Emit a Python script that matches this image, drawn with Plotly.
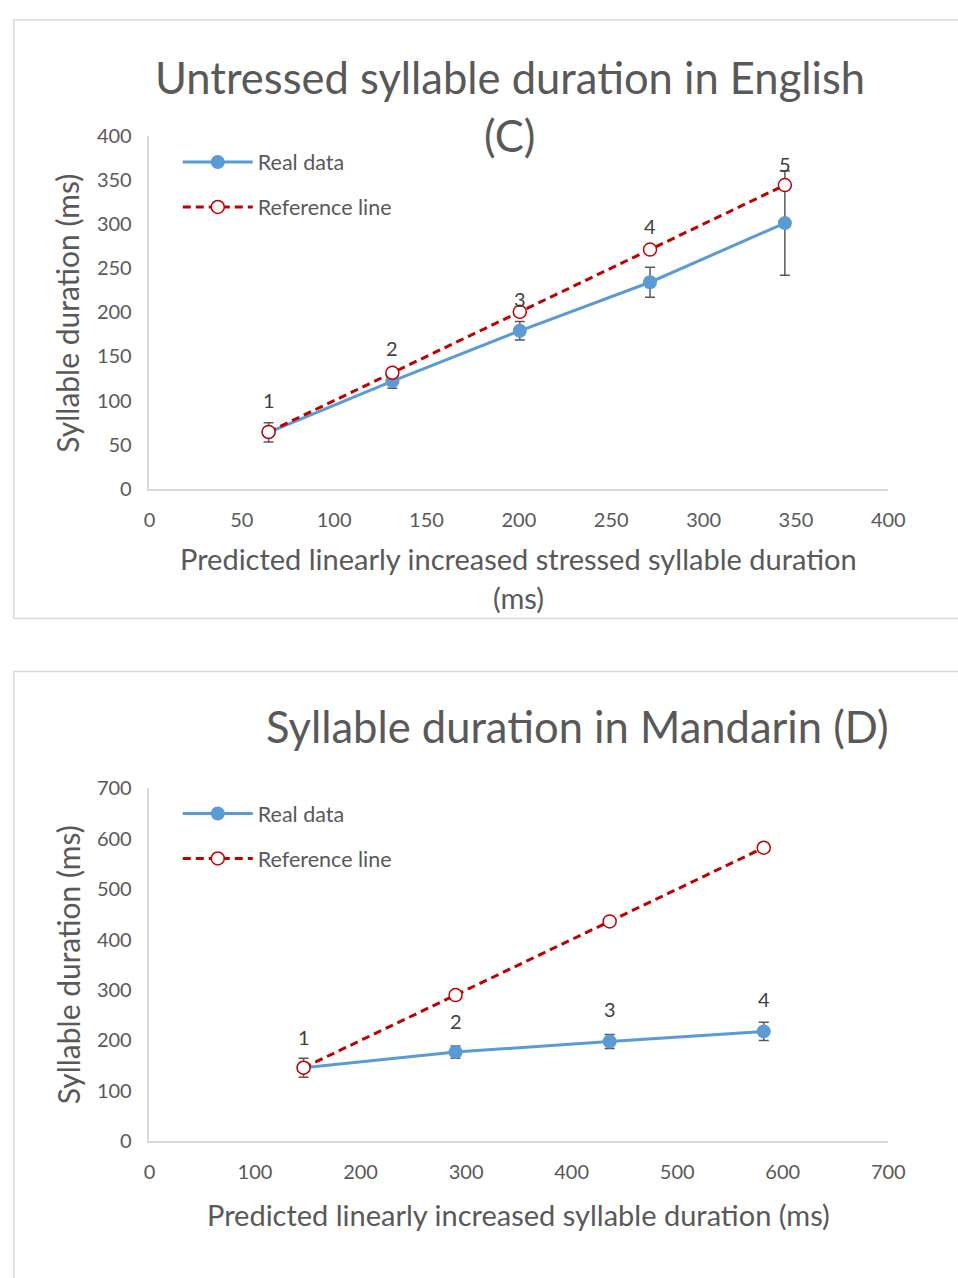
import plotly.graph_objects as go

W, H = 958, 1278

# ---- data: English (C) ----
en_pred = [64.5, 131.5, 200.5, 271, 344]
en_real = [64, 122, 179, 234, 301]
en_real_err = [11, 8, 10.5, 17, 59]
en_ref = [64.5, 131.5, 200.5, 271, 344]
en_labels = ["1", "2", "3", "4", "5"]

# ---- data: Mandarin (D) ----
md_pred = [146, 290, 436, 582]
md_real = [146, 177, 198, 218]
md_real_err = [19, 12, 14, 18]
md_ref = [146, 290, 436, 582]
md_labels = ["1", "2", "3", "4"]

# style: label offsets above the real-data point (pixels)
en_label_shift = [32, 33, 32, 56, 59]
md_label_shift = [31, 31, 32, 32]

FONT = "Lato, Carlito, Calibri, sans-serif"
TXT = "#595959"
AX = "#d9d9d9"
BLUE = "#5b9bd5"
RED = "#c00000"


def py(px):
    return 1 - px / H


def pxx(px):
    return px / W


fig = go.Figure()

# English
fig.add_trace(go.Scatter(
    x=en_pred, y=en_real, mode="lines+markers", name="Real data",
    line=dict(color=BLUE, width=3), marker=dict(size=14, color=BLUE),
    error_y=dict(type="data", array=en_real_err, color=TXT, thickness=1.5, width=5),
    xaxis="x", yaxis="y", legend="legend", legendgroup="a"))
fig.add_trace(go.Scatter(
    x=en_pred, y=en_ref, mode="lines+markers", name="Reference line",
    line=dict(color=RED, width=3, dash="8px,5px"),
    marker=dict(size=13, color="white", line=dict(color=RED, width=1.5)),
    xaxis="x", yaxis="y", legend="legend", legendgroup="b"))

# Mandarin
fig.add_trace(go.Scatter(
    x=md_pred, y=md_real, mode="lines+markers", name="Real data",
    line=dict(color=BLUE, width=3), marker=dict(size=14, color=BLUE),
    error_y=dict(type="data", array=md_real_err, color=TXT, thickness=1.5, width=5),
    xaxis="x2", yaxis="y2", legend="legend2", legendgroup="c"))
fig.add_trace(go.Scatter(
    x=md_pred, y=md_ref, mode="lines+markers", name="Reference line",
    line=dict(color=RED, width=3, dash="8px,5px"),
    marker=dict(size=13, color="white", line=dict(color=RED, width=1.5)),
    xaxis="x2", yaxis="y2", legend="legend2", legendgroup="d"))

annotations = []
for xv, yv, t, s in zip(en_pred, en_real, en_labels, en_label_shift):
    annotations.append(dict(x=xv, y=yv, xref="x", yref="y", text=t, showarrow=False,
                            yshift=s, font=dict(family=FONT, size=20, color="#404040")))
for xv, yv, t, s in zip(md_pred, md_real, md_labels, md_label_shift):
    annotations.append(dict(x=xv, y=yv, xref="x2", yref="y2", text=t, showarrow=False,
                            yshift=s, font=dict(family=FONT, size=20, color="#404040")))

TS = 43.5
AT = 29
YT = 30
# titles
annotations += [
    dict(x=pxx(516), y=py(65), xref="paper", yref="paper", text="Untressed syllable duration in English",
         showarrow=False, font=dict(family=FONT, size=TS, color=TXT), yanchor="middle"),
    dict(x=pxx(516), y=py(124), xref="paper", yref="paper", text="(C)",
         showarrow=False, font=dict(family=FONT, size=TS, color=TXT), yanchor="middle"),
    dict(x=pxx(586), y=py(727), xref="paper", yref="paper", text="Syllable duration in Mandarin (D)",
         showarrow=False, font=dict(family=FONT, size=TS, color=TXT), yanchor="middle"),
    # axis titles
    dict(x=pxx(525), y=py(556), xref="paper", yref="paper",
         text="Predicted linearly increased stressed syllable duration",
         showarrow=False, font=dict(family=FONT, size=AT, color=TXT), yanchor="middle"),
    dict(x=pxx(525), y=py(596), xref="paper", yref="paper", text="(ms)",
         showarrow=False, font=dict(family=FONT, size=AT, color=TXT), yanchor="middle"),
    dict(x=pxx(525), y=py(1224), xref="paper", yref="paper",
         text="Predicted linearly increased syllable duration (ms)",
         showarrow=False, font=dict(family=FONT, size=AT, color=TXT), yanchor="middle"),
    dict(x=pxx(63), y=py(306), xref="paper", yref="paper", text="Syllable duration (ms)",
         showarrow=False, textangle=-90, font=dict(family=FONT, size=YT, color=TXT),
         xanchor="center", yanchor="middle"),
    dict(x=pxx(63), y=py(970), xref="paper", yref="paper", text="Syllable duration (ms)",
         showarrow=False, textangle=-90, font=dict(family=FONT, size=YT, color=TXT),
         xanchor="center", yanchor="middle"),
]

axis_common = dict(showgrid=False, zeroline=False, showline=True, linecolor=AX, linewidth=1.5,
                   ticks="outside", ticklen=12, tickcolor="rgba(0,0,0,0)",
                   tickfont=dict(family=FONT, size=20, color=TXT), fixedrange=True)

xd = [pxx(147), pxx(904)]
fig.update_layout(
    width=W, height=H, autosize=False,
    margin=dict(l=0, r=0, t=0, b=0),
    paper_bgcolor="white", plot_bgcolor="white",
    showlegend=True,
    xaxis=dict(domain=xd, range=[0, 400], dtick=50, anchor="y", **axis_common),
    yaxis=dict(domain=[py(485), py(125)], range=[0, 400], dtick=50, anchor="x", **axis_common),
    xaxis2=dict(domain=xd, range=[0, 700], dtick=100, anchor="y2", **axis_common),
    yaxis2=dict(domain=[py(1150), py(790)], range=[0, 700], dtick=100, anchor="x2", **axis_common),
    legend=dict(x=pxx(176), y=py(131), xanchor="left", yanchor="top", bgcolor="rgba(0,0,0,0)",
                font=dict(family=FONT, size=21.5, color=TXT), itemwidth=70, tracegroupgap=14),
    legend2=dict(x=pxx(176), y=py(795), xanchor="left", yanchor="top", bgcolor="rgba(0,0,0,0)",
                 font=dict(family=FONT, size=21.5, color=TXT), itemwidth=70, tracegroupgap=14),
    annotations=annotations,
    shapes=[
        dict(type="rect", xref="paper", yref="paper", x0=pxx(8), x1=1.05, y0=py(617), y1=py(7),
             line=dict(color=AX, width=1.5), layer="below"),
        dict(type="rect", xref="paper", yref="paper", x0=pxx(8), x1=1.05, y0=-0.05, y1=py(671),
             line=dict(color=AX, width=1.5), layer="below"),
    ],
)

fig.write_html("out.html", config={"displayModeBar": False},
               post_script="document.body.style.margin='0';document.body.style.overflow='hidden';")
